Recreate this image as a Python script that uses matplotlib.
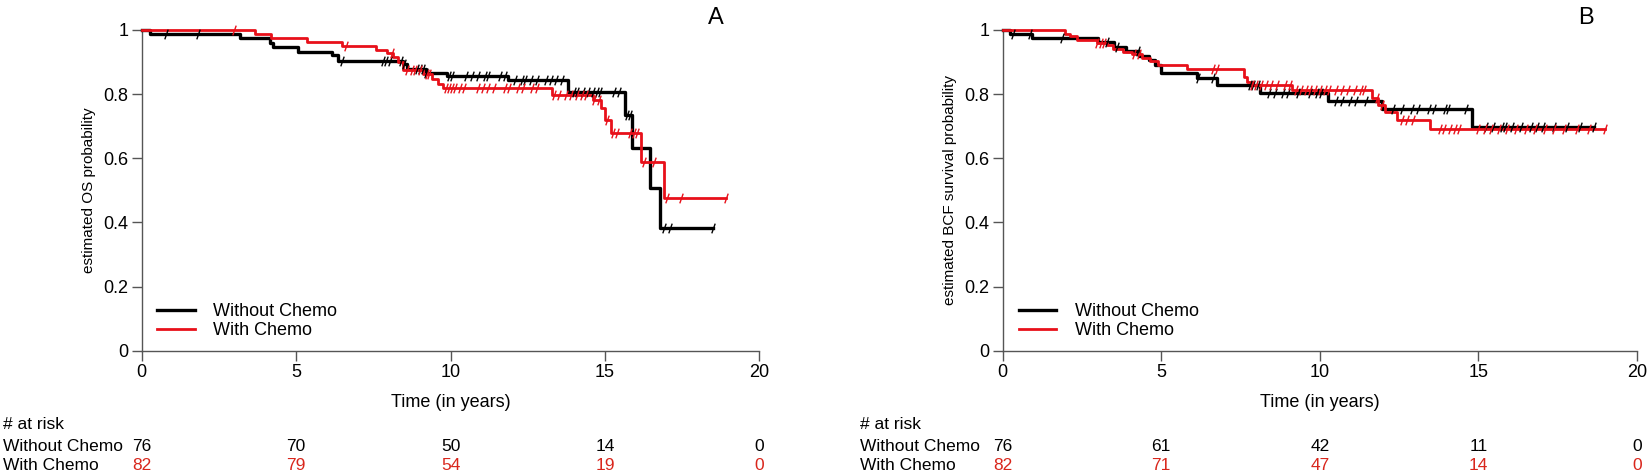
import numpy as np
import matplotlib
matplotlib.use("Agg")
import matplotlib.pyplot as plt
from matplotlib.path import Path
from matplotlib.transforms import blended_transform_factory

plt.rcParams['font.family'] = ['Liberation Sans', 'DejaVu Sans']

# ---- data ----
# panel A: overall survival
a_black_t = [0, 0.27, 3.2, 4.15, 4.26, 5.07, 6.15, 6.36, 8.45, 8.6, 9.2, 9.9, 11.86, 13.8, 15.64, 15.86, 16.45, 16.77]
a_black_s = [1.0, 0.987, 0.974, 0.958, 0.948, 0.932, 0.922, 0.904, 0.893, 0.877, 0.865, 0.858, 0.845, 0.806, 0.735, 0.631, 0.506, 0.382]
a_black_end = 18.5
a_black_cens = [0.8, 1.83, 6.5, 7.8, 7.9, 8.05, 8.4, 8.5, 8.9, 9.0, 9.1, 9.2, 9.95, 10.05, 10.5, 10.7,
                10.9, 11.1, 11.2, 11.6, 11.75, 12.1, 12.3, 12.4, 12.6, 12.8, 13.1, 13.25, 13.4, 13.6,
                14.0, 14.1, 14.3, 14.45, 14.6, 14.75, 14.85, 15.3, 15.45, 15.7, 15.8, 16.9, 17.1, 18.5]

a_red_t = [0, 3.67, 4.2, 5.34, 6.5, 7.6, 7.95, 8.15, 8.3, 8.45, 9.1, 9.4, 9.6, 9.75, 13.3, 14.6, 14.88, 15.0, 15.2, 16.18, 16.9]
a_red_s = [1.0, 0.988, 0.976, 0.963, 0.951, 0.939, 0.927, 0.915, 0.90, 0.875, 0.862, 0.848, 0.833, 0.818, 0.797, 0.783, 0.756, 0.719, 0.678, 0.59, 0.475]
a_red_end = 18.93
a_red_cens = [3.0, 6.63, 8.1, 8.6, 8.75, 8.85, 9.0, 9.25, 9.3, 9.85, 9.95, 10.05, 10.15, 10.3, 10.45,
              10.9, 11.05, 11.2, 11.4, 11.75, 11.9, 12.2, 12.35, 12.65, 12.8, 13.35, 13.5, 13.75, 13.9,
              14.1, 14.25, 14.4, 14.65, 14.8, 15.05, 15.25, 15.4, 15.8, 15.95, 16.05, 16.25, 16.6,
              17.0, 17.45, 18.93]

# panel B: BCF survival
b_black_t = [0, 0.23, 0.91, 3.0, 3.5, 3.9, 4.3, 4.6, 4.8, 5.0, 6.12, 6.75, 8.1, 10.27, 11.96, 14.8]
b_black_s = [1.0, 0.987, 0.974, 0.961, 0.947, 0.934, 0.92, 0.907, 0.89, 0.866, 0.85, 0.828, 0.803, 0.779, 0.753, 0.697]
b_black_end = 18.65
b_black_cens = [0.33, 0.86, 1.86, 3.3, 3.6, 4.27, 6.17, 6.64, 7.8, 7.9, 8.05, 8.4, 8.6, 8.85, 9.0, 9.3,
                9.7, 9.9, 10.05, 10.5, 10.7, 10.95, 11.15, 11.45, 12.3, 12.6, 12.9, 13.1, 13.45, 13.6,
                13.95, 14.05, 14.6, 15.25, 15.45, 15.75, 15.85, 16.05, 16.35, 16.65, 16.85, 17.05,
                17.4, 17.8, 18.2, 18.65]

b_red_t = [0, 1.97, 2.12, 2.33, 2.97, 3.28, 3.48, 3.8, 4.07, 4.38, 4.65, 4.9, 5.8, 7.6, 7.7, 7.85, 9.12, 11.65, 11.85, 12.05, 12.43, 13.48]
b_red_s = [1.0, 0.988, 0.981, 0.969, 0.96, 0.952, 0.94, 0.93, 0.925, 0.912, 0.903, 0.89, 0.877, 0.855, 0.839, 0.83, 0.813, 0.787, 0.766, 0.745, 0.72, 0.69]
b_red_end = 19.0
b_red_cens = [2.97, 3.1, 3.2, 4.15, 4.3, 6.64, 6.75, 7.85, 8.0, 8.15, 8.3, 8.45, 8.65, 8.9, 9.05, 9.25,
              9.4, 9.55, 9.7, 9.85, 10.0, 10.15, 10.3, 10.5, 10.7, 10.9, 11.1, 11.3, 11.4, 11.8, 11.95,
              12.6, 12.75, 12.95, 13.8, 13.9, 14.1, 14.25, 14.4, 15.0, 15.2, 15.4, 15.65, 15.9, 16.2,
              16.5, 16.8, 17.1, 17.4, 17.7, 18.1, 18.5, 19.0]

risk_times = [0, 5, 10, 15, 20]
a_risk_without = [76, 70, 50, 14, 0]
a_risk_with = [82, 79, 54, 19, 0]
b_risk_without = [76, 61, 42, 11, 0]
b_risk_with = [82, 71, 47, 14, 0]

yticks = [0, 0.2, 0.4, 0.6, 0.8, 1]
ytick_labels = ['0', '0.2', '0.4', '0.6', '0.8', '1']

RED = '#e8101a'
RED_TXT = '#d9261c'
cens_marker = Path([(-0.35, -1), (0.35, 1)], [Path.MOVETO, Path.LINETO])

fig = plt.figure(figsize=(16.47, 4.73), dpi=100)
axA = fig.add_axes([0.0860, 0.2584, 0.3751, 0.6782])
axB = fig.add_axes([0.6088, 0.2584, 0.3851, 0.6782])


def km(ax, t, s, end, cens, color, lw):
    tt = list(t) + [end]
    ss = list(s) + [s[-1]]
    ax.step(tt, ss, where='post', color=color, lw=lw, clip_on=False, zorder=3)
    idx = np.searchsorted(t, cens, side='right') - 1
    cy = np.array(s)[idx]
    ax.plot(cens, cy, ls='none', marker=cens_marker, ms=7, mew=1.0, mec=color, clip_on=False, zorder=4)


def setup(ax, ylabel, letter, letter_x):
    ax.set_xlim(0, 20)
    ax.set_ylim(0, 1)
    for sp in ['top', 'right']:
        ax.spines[sp].set_visible(False)
    for sp in ['left', 'bottom']:
        ax.spines[sp].set_color('#555555')
        ax.spines[sp].set_linewidth(1.0)
    ax.set_xticks([0, 5, 10, 15, 20])
    ax.set_yticks(yticks)
    ax.set_yticklabels(ytick_labels)
    ax.tick_params(axis='both', direction='out', length=7.5, width=1.0, color='#555555',
                   labelsize=13, pad=2)
    ax.set_ylabel(ylabel, fontsize=11, labelpad=5)
    ax.set_xlabel('Time (in years)', fontsize=13)
    ax.xaxis.set_label_coords(0.5, -0.135)
    ax.text(letter_x, 1.038, letter, fontsize=17, ha='center', va='center', transform=ax.transData)


def risk_table(ax, x_label, without, with_):
    tr = blended_transform_factory(ax.transData, fig.transFigure)
    rows_y = [0.1015, 0.0570, 0.0150]
    fig.text(x_label, rows_y[0], '# at risk', fontsize=12.5, va='center', ha='left')
    fig.text(x_label, rows_y[1], 'Without Chemo', fontsize=12.5, va='center', ha='left')
    fig.text(x_label, rows_y[2], 'With Chemo', fontsize=12.5, va='center', ha='left')
    for tx, n1, n2 in zip(risk_times, without, with_):
        ax.text(tx, rows_y[1], str(n1), transform=tr, fontsize=12.5, ha='center', va='center', clip_on=False)
        ax.text(tx, rows_y[2], str(n2), transform=tr, fontsize=12.5, ha='center', va='center',
                color=RED_TXT, clip_on=False)


# panel A
km(axA, a_black_t, a_black_s, a_black_end, a_black_cens, 'black', 2.4)
km(axA, a_red_t, a_red_s, a_red_end, a_red_cens, RED, 2.0)
setup(axA, 'estimated OS probability', 'A', 18.6)
risk_table(axA, 3 / 1647, a_risk_without, a_risk_with)

# panel B
km(axB, b_black_t, b_black_s, b_black_end, b_black_cens, 'black', 2.4)
km(axB, b_red_t, b_red_s, b_red_end, b_red_cens, RED, 2.0)
setup(axB, 'estimated BCF survival probability', 'B', 18.4)
risk_table(axB, 860 / 1647, b_risk_without, b_risk_with)

# legends
for ax in (axA, axB):
    h1, = ax.plot([], [], color='black', lw=2.4, label='Without Chemo')
    h2, = ax.plot([], [], color=RED, lw=2.0, label='With Chemo')
    ax.legend(handles=[h1, h2], loc='upper left', bbox_to_anchor=(0.025, 0.148), frameon=False,
              fontsize=13, handlelength=2.1, handletextpad=1.0, labelspacing=0.12,
              borderpad=0, borderaxespad=0)

fig.savefig('out.png', dpi=100)
